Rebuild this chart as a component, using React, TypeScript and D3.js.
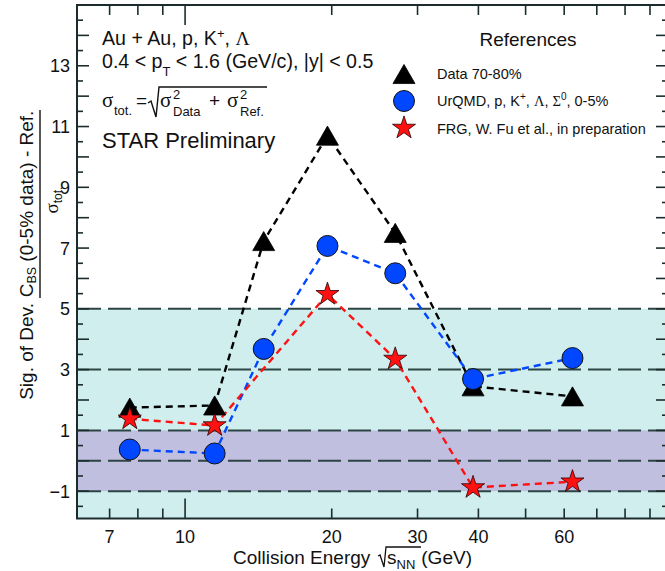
import React from 'react';
import * as d3 from 'd3';

// ---- data ----
const energies = [7.7, 11.5, 14.5, 19.6, 27, 39, 62.4];
const dataPeripheral = [1.75, 1.82, 7.23, 10.7, 7.5, 2.45, 2.12];
const urqmd = [0.37, 0.24, 3.68, 7.07, 6.17, 2.69, 3.38];
const frgEnergies = [7.7, 11.5, 19.6, 27, 39, 62.4];
const frg = [1.38, 1.16, 5.48, 3.35, -0.88, -0.69];
const xTickLabels = [7, 10, 20, 30, 40, 60];
const xMinorTicks = [7, 8, 9, 20, 30, 40, 50, 60, 70, 80, 90];
const xMajorTicks = [10];
const yTickLabels = [-1, 1, 3, 5, 7, 9, 11, 13];
const refLines = [5, 3, 1, 0, -1];
const outerBand = [-1.9, 5];
const innerBand = [-1, 1];

const W = 665;
const H = 571;
const L = 77, R = 668, T = 5, B = 518.5;

const SANS = "'Liberation Sans', Arial, Helvetica, sans-serif";
const SERIF = "'Liberation Serif', 'Times New Roman', serif";

const AXIS = '#1c2c2c';
const GRID = '#2d4444';
const BLUE = '#0047ff';
const RED = '#ff1111';

export default function App() {
  const x = d3.scaleLog().domain([6, 98]).range([L, R]);
  const y = d3.scaleLinear().domain([-1.9, 15]).range([B, T]);

  const lineGen = d3.line<[number, number]>().x(d => x(d[0])).y(d => y(d[1]));
  const pairs = (xs: number[], ys: number[]) => xs.map((e, i) => [e, ys[i]] as [number, number]);

  const triSize = 210;
  const triPath = d3.symbol().type(d3.symbolTriangle).size(triSize)()!;
  const triOff = Math.sqrt(triSize / (Math.sqrt(3) * 3)) / 2; // shift so bbox centered
  const starPath = d3.symbol().type(d3.symbolStar).size(165)()!;
  const circR = 10.5;

  const yMinor = d3.range(-1.5, 15, 0.5).filter(v => Math.abs(v - Math.round(v)) > 0.01);
  const yMajor = d3.range(-1, 15, 1);

  const tri = (cx: number, cy: number, key: any) => (
    <path key={key} d={triPath} transform={`translate(${cx},${cy + triOff})`} fill="#000" stroke="#000" strokeWidth={0.8} />
  );
  const circ = (cx: number, cy: number, key: any) => (
    <circle key={key} cx={cx} cy={cy} r={circR} fill={BLUE} stroke="#111" strokeWidth={1} />
  );
  const star = (cx: number, cy: number, key: any) => (
    <path key={key} d={starPath} transform={`translate(${cx},${cy})`} fill={RED} stroke="#2a0000" strokeWidth={0.8} />
  );

  return (
    <svg width={W} height={H} style={{ position: 'absolute', left: 0, top: 0, background: '#fff' }} fontFamily={SANS}>
      {/* bands */}
      <rect x={L} width={R - L} y={y(outerBand[1])} height={y(outerBand[0]) - y(outerBand[1])} fill="#cfeeed" />
      <rect x={L} width={R - L} y={y(innerBand[1])} height={y(innerBand[0]) - y(innerBand[1])} fill="#c1bfdf" />
      {/* reference dashed lines */}
      {refLines.map(v => (
        <line key={v} x1={L + 1} x2={R} y1={y(v)} y2={y(v)} stroke={GRID} strokeWidth={2} strokeDasharray="23,7" />
      ))}

      {/* axes frame */}
      <rect x={L} y={T} width={R - L} height={B - T} fill="none" stroke={AXIS} strokeWidth={2} />
      {/* y ticks */}
      {yMajor.map(v => (
        <g key={'ym' + v}>
          <line x1={L} x2={L + 12} y1={y(v)} y2={y(v)} stroke={AXIS} strokeWidth={1.6} />
          <line x1={R} x2={R - 12} y1={y(v)} y2={y(v)} stroke={AXIS} strokeWidth={1.6} />
        </g>
      ))}
      {yMinor.map(v => (
        <g key={'yn' + v}>
          <line x1={L} x2={L + 6} y1={y(v)} y2={y(v)} stroke={AXIS} strokeWidth={1.6} />
          <line x1={R} x2={R - 6} y1={y(v)} y2={y(v)} stroke={AXIS} strokeWidth={1.6} />
        </g>
      ))}
      {/* x ticks */}
      {xMajorTicks.map(v => (
        <g key={'xm' + v}>
          <line x1={x(v)} x2={x(v)} y1={B} y2={B - 20} stroke={AXIS} strokeWidth={1.6} />
          <line x1={x(v)} x2={x(v)} y1={T} y2={T + 20} stroke={AXIS} strokeWidth={1.6} />
        </g>
      ))}
      {xMinorTicks.map(v => (
        <g key={'xn' + v}>
          <line x1={x(v)} x2={x(v)} y1={B} y2={B - 10} stroke={AXIS} strokeWidth={1.6} />
          <line x1={x(v)} x2={x(v)} y1={T} y2={T + 10} stroke={AXIS} strokeWidth={1.6} />
        </g>
      ))}
      {/* tick labels */}
      {yTickLabels.map(v => (
        <text key={'yl' + v} x={70} y={y(v)} dy="0.36em" textAnchor="end" fontSize={18} fill="#111">
          {v < 0 ? '\u2212' + Math.abs(v) : v}
        </text>
      ))}
      {xTickLabels.map(v => (
        <text key={'xl' + v} x={x(v)} y={543} textAnchor="middle" fontSize={18} fill="#111">{v}</text>
      ))}

      {/* data lines */}
      <path d={lineGen(pairs(energies, dataPeripheral))!} fill="none" stroke="#000" strokeWidth={2.4} strokeDasharray="7,5" />
      <path d={lineGen(pairs(energies, urqmd))!} fill="none" stroke={BLUE} strokeWidth={2.4} strokeDasharray="7,5" />
      <path d={lineGen(pairs(frgEnergies, frg))!} fill="none" stroke={RED} strokeWidth={2.4} strokeDasharray="7,5" />

      {/* markers */}
      {energies.map((e, i) => tri(x(e), y(dataPeripheral[i]), 't' + i))}
      {energies.map((e, i) => circ(x(e), y(urqmd[i]), 'c' + i))}
      {frgEnergies.map((e, i) => star(x(e), y(frg[i]), 's' + i))}

      {/* annotation top-left */}
      <text x={102} y={45} fontSize={19.6} fill="#111">
        Au + Au, p, K<tspan dy={-7} fontSize={13}>+</tspan><tspan dy={7}>, </tspan><tspan fontFamily={SERIF}>Λ</tspan>
      </text>
      <text x={102} y={68} fontSize={19.6} fill="#111">
        0.4 &lt; p<tspan dy={8} fontSize={13}>T</tspan><tspan dy={-8}> &lt; 1.6 (GeV/c), |y| &lt; 0.5</tspan>
      </text>
      <text x={102} y={107} fontSize={21} fontFamily={SERIF} fill="#111">σ</text>
      <text x={114} y={115} fontSize={13} fill="#111">tot.</text>
      <text x={136} y={107} fontSize={19} fill="#111">=</text>
      <path d="M148,103 L151,101 L156,117 L159,87 L267,87" fill="none" stroke="#111" strokeWidth={1.4} />
      <text x={160} y={107} fontSize={21} fontFamily={SERIF} fill="#111">σ</text>
      <text x={173} y={99} fontSize={13} fill="#111">2</text>
      <text x={173} y={116} fontSize={13} fill="#111">Data</text>
      <text x={209} y={107} fontSize={19} fill="#111">+</text>
      <text x={227} y={107} fontSize={21} fontFamily={SERIF} fill="#111">σ</text>
      <text x={240} y={99} fontSize={13} fill="#111">2</text>
      <text x={240} y={116} fontSize={13} fill="#111">Ref.</text>
      <text x={102} y={148} fontSize={22} fill="#111">STAR Preliminary</text>

      {/* legend */}
      <text x={528} y={46} textAnchor="middle" fontSize={19} fill="#111">References</text>
      {tri(404, 74, 'lt')}
      {circ(404, 101, 'lc')}
      {star(404, 128, 'ls')}
      <text x={437} y={79} fontSize={14.5} fill="#111">Data 70-80%</text>
      <text x={437} y={106} fontSize={14.5} fill="#111">
        UrQMD, p, K<tspan dy={-6} fontSize={10}>+</tspan><tspan dy={6}>, </tspan><tspan fontFamily={SERIF}>Λ</tspan>, <tspan fontFamily={SERIF}>Σ</tspan><tspan dy={-6} fontSize={10}>0</tspan><tspan dy={6}>, 0-5%</tspan>
      </text>
      <text x={437} y={134} fontSize={14.5} fill="#111">FRG, W. Fu et al., in preparation</text>

      {/* y-axis title */}
      <g transform="rotate(-90)">
        <text x={-303} y={33} textAnchor="end" fontSize={19} fill="#111">Sig. of Dev.</text>
        <text x={-204} y={33} textAnchor="middle" fontSize={19} fill="#111">
          C<tspan dy={3} fontSize={12.5}>BS</tspan><tspan dy={-3}> (0-5% data) - Ref.</tspan>
        </text>
        <text x={-200} y={58} textAnchor="middle" fontSize={19} fill="#111">
          <tspan fontFamily={SERIF}>σ</tspan><tspan dy={4} fontSize={12}>tot.</tspan>
        </text>
      </g>
      <line x1={40} x2={40} y1={110} y2={298} stroke="#111" strokeWidth={1.4} />

      {/* x-axis title */}
      <text x={233} y={564} fontSize={19} fill="#111">Collision Energy</text>
      <path d="M378,556 L380,555 L384,567 L386,547 L421,547" fill="none" stroke="#111" strokeWidth={1.3} />
      <text x={387} y={564} fontSize={19} fill="#111">
        s<tspan dy={5} fontSize={13}>NN</tspan><tspan dy={-5} dx={6}>(GeV)</tspan>
      </text>
    </svg>
  );
}
